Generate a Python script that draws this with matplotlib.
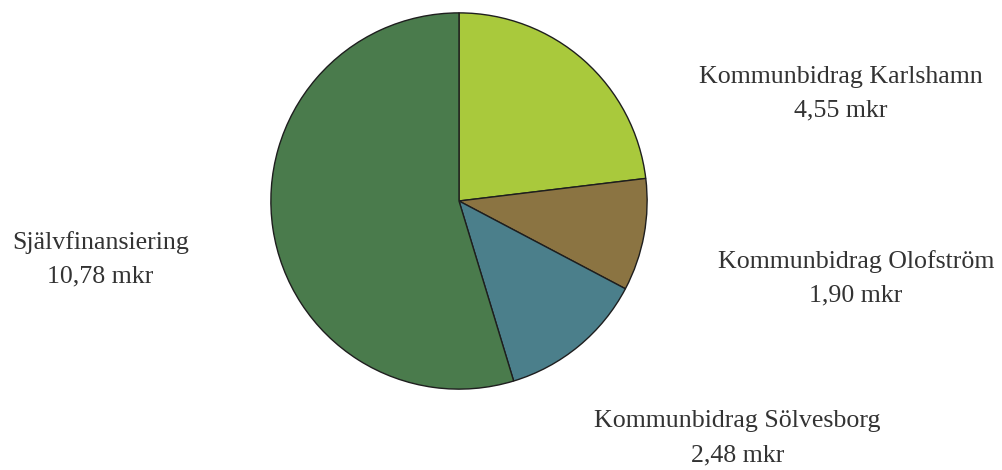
import matplotlib.pyplot as plt

# Finansiering (mkr)
names = ['Kommunbidrag Karlshamn', 'Kommunbidrag Olofström',
         'Kommunbidrag Sölvesborg', 'Självfinansiering']
values = [4.55, 1.90, 2.48, 10.78]
colors = ['#a9c93c', '#8b7442', '#4b7f8b', '#4a7b4c']

# label positions in pie data coords (radius 1)
label_pos = [(2.03, 0.57), (2.11, -0.41), (1.48, -1.26), (-1.905, -0.31)]

plt.rcParams['font.family'] = ['Liberation Serif', 'DejaVu Serif']

fig = plt.figure(figsize=(10.02, 4.70), dpi=100)
ax = fig.add_axes([269 / 1002, 79 / 470, 380 / 1002, 380 / 470])
ax.pie(values, colors=colors, startangle=90, counterclock=False,
       radius=1, wedgeprops=dict(edgecolor='#1e1e1e', linewidth=1.0))
ax.set_xlim(-1.01, 1.01)
ax.set_ylim(-1.01, 1.01)
ax.axis('off')

for name, v, (x, y) in zip(names, values, label_pos):
    txt = name + '\n' + f'{v:.2f}'.replace('.', ',') + ' mkr'
    ax.text(x, y, txt, ha='center', va='center', fontsize=18.6,
            color='#333333', linespacing=1.7, clip_on=False)

fig.savefig('out.png', dpi=100, facecolor='white')
